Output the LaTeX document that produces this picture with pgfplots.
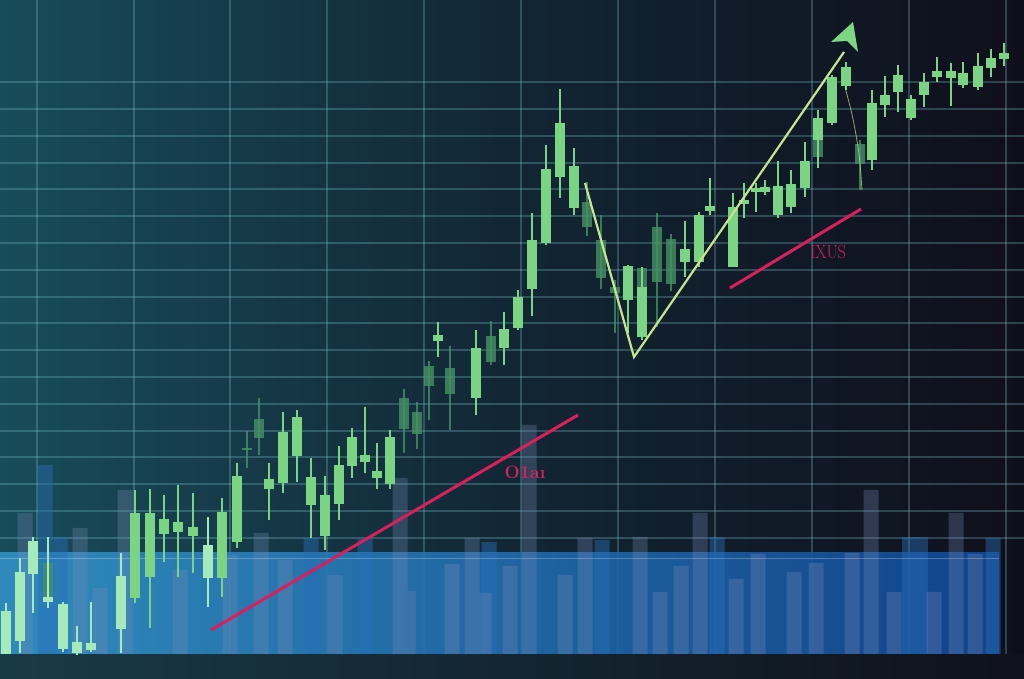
\documentclass[border=0pt]{standalone}
\usepackage{pgfplots}
\usepackage{pgfplotstable}
\pgfplotsset{compat=1.18}
\definecolor{bgL}{RGB}{24,76,90}
\definecolor{bgM}{RGB}{18,38,52}
\definecolor{bgR}{RGB}{15,15,27}
\definecolor{gridc}{RGB}{130,205,215}
\definecolor{bandL}{RGB}{50,145,198}
\definecolor{bandR}{RGB}{18,72,150}
\definecolor{slate}{RGB}{120,140,185}
\definecolor{bluebar}{RGB}{40,110,185}
\definecolor{stripL}{RGB}{24,58,70}
\definecolor{stripR}{RGB}{15,17,28}
\definecolor{cgreen}{RGB}{122,212,132}
\definecolor{cmint}{RGB}{165,235,185}
\definecolor{cdim}{RGB}{70,145,100}
\definecolor{lime}{RGB}{198,228,140}
\definecolor{pinkc}{RGB}{215,32,92}
\definecolor{arrowc}{RGB}{125,215,130}

% candles: x, body low, body high, wick low, wick high
\pgfplotstableread{
x blo bhi lo hi
135 81 166 76 189
150 102 166 51 190
164 145 160 117 184
178 147 157 102 194
193 143 152 106 186
222 101 167 82 181
237 137 203 131 216
269 190 200 159 216
283 196 247 186 267
297 223 262 197 269
311 174 202 141 221
325 143 184 129 203
339 175 214 159 233
352 213 242 201 251
365 217 224 206 272
377 201 208 190 236
390 195 242 190 249
438 338 344 322 357
476 281 331 264 349
504 331 350 314 367
518 351 382 349 389
532 390 439 363 466
546 436 510 434 534
560 502 556 481 590
574 471 513 464 531
628 379 413 346 414
642 342 392 339 412
685 417 430 402 458
699 417 464 412 467
710 468 473 464 501
733 412 472 412 486
744 475 479 461 496
756 487 491 467 496
765 487 492 484 499
778 464 493 461 518
791 472 495 466 509
805 491 518 482 537
818 539 561 511 569
832 556 602 554 604
846 593 612 589 617
872 519 576 509 589
885 574 584 562 603
898 587 604 567 614
911 561 580 559 584
924 584 597 572 606
937 602 608 597 622
951 601 608 573 616
963 594 606 591 617
978 592 613 589 626
991 611 621 602 630
1004 620 626 613 636
}\brightc

\pgfplotstableread{
x blo bhi lo hi
6 25 68 25 76
20 38 107 26 121
33 105 138 66 142
48 77 82 71 142
63 30 75 27 77
77 26 37 24 53
91 29 36 27 77
121 50 103 26 126
208 101 134 72 162
}\mintc

\pgfplotstableread{
x blo bhi lo hi
48 77 116 71 142
247 229 231 211 248
259 241 260 224 281
404 250 281 226 290
417 245 267 230 277
429 293 313 259 318
450 285 311 249 333
491 317 343 314 358
587 452 477 443 497
601 401 439 390 464
615 386 392 346 399
642 392 411 339 412
657 397 452 352 466
671 395 440 388 445
818 522 539 511 569
860 515 535 489 539
}\dimc

\begin{document}
\begin{tikzpicture}
\begin{axis}[
  width=1024pt, height=679pt, scale only axis,
  xmin=0, xmax=1024, ymin=0, ymax=679,
  axis line style={draw=none}, tick style={draw=none},
  xticklabels={}, yticklabels={},
  xtick={37,134,230,327,424,521,618,715,812,909,1006},
  ytick={141,168,195,222,248,275,302,329,356,382,409,436,463,490,516,543,570,597},
  grid=major,
  grid style={line width=1.5pt, draw=gridc, draw opacity=0.27},
  axis background/.style={shade, left color=bgL, right color=bgR, middle color=bgM},
  clip=true,
  candle/.style={draw=none, mark=none, forget plot},
]
% blue band
\addplot[draw=none, left color=bandL, right color=bandR, opacity=0.9, forget plot]
  coordinates {(0,24) (999,24) (999,126) (0,126)} -- cycle;
% blue tall bars
\addplot[ybar, bar shift=0pt, bar width=15, draw=none, fill=bluebar, fill opacity=0.45, forget plot]
  coordinates {(45,214) (60,142) (311,141) (365,140) (489,137) (602,139) (717,142) (993,141)};
\addplot[ybar, bar shift=0pt, bar width=26, draw=none, fill=bluebar, fill opacity=0.45, forget plot]
  coordinates {(915,142)};
% slate volume bars
\addplot[ybar, bar shift=0pt, bar width=15, draw=none, fill=slate, fill opacity=0.3, forget plot]
  coordinates {(25,166) (80,151) (125,189) (261,146) (400,201) (472,141) (529,254) (585,141)
  (640,142) (700,166) (871,189) (956,166)
  (100,91) (180,109) (230,124) (285,119) (335,104) (408,88) (452,115) (484,86) (510,113)
  (565,104) (660,87) (681,113) (736,100) (758,125) (794,107) (816,116) (852,126) (894,87)
  (934,87) (975,125)};
% band top highlight
\addplot[draw=white, draw opacity=0.25, line width=1pt, forget plot] coordinates {(0,120) (999,120)};
% bottom strip
\addplot[draw=none, left color=stripL, right color=stripR, forget plot]
  coordinates {(0,0) (1024,0) (1024,24) (0,24)} -- cycle;
% dim candles
\addplot[candle, error bars/.cd, y dir=plus, y explicit, error mark=none,
  error bar style={line width=1.5pt, draw=cdim, draw opacity=0.8}]
  table[x=x, y=lo, y error expr=\thisrow{hi}-\thisrow{lo}] {\dimc};
\addplot[candle, error bars/.cd, y dir=plus, y explicit, error mark=none,
  error bar style={line width=10.5pt, draw=cdim, draw opacity=0.8}]
  table[x=x, y=blo, y error expr=\thisrow{bhi}-\thisrow{blo}] {\dimc};
% mint candles
\addplot[candle, error bars/.cd, y dir=plus, y explicit, error mark=none,
  error bar style={line width=1.5pt, draw=cmint}]
  table[x=x, y=lo, y error expr=\thisrow{hi}-\thisrow{lo}] {\mintc};
\addplot[candle, error bars/.cd, y dir=plus, y explicit, error mark=none,
  error bar style={line width=10.5pt, draw=cmint}]
  table[x=x, y=blo, y error expr=\thisrow{bhi}-\thisrow{blo}] {\mintc};
% bright candles
\addplot[candle, error bars/.cd, y dir=plus, y explicit, error mark=none,
  error bar style={line width=1.5pt, draw=cgreen}]
  table[x=x, y=lo, y error expr=\thisrow{hi}-\thisrow{lo}] {\brightc};
\addplot[candle, error bars/.cd, y dir=plus, y explicit, error mark=none,
  error bar style={line width=10.5pt, draw=cgreen}]
  table[x=x, y=blo, y error expr=\thisrow{bhi}-\thisrow{blo}] {\brightc};
% thin curved wick
\addplot[smooth, draw=lime, draw opacity=0.7, line width=0.8pt, forget plot]
  coordinates {(845,592) (853,560) (859,525) (862,489)};
% V trend line
\addplot[draw=lime, line width=2.2pt, forget plot]
  coordinates {(585,496) (634,322) (844,627)};
% arrow head
\addplot[draw=none, fill=arrowc, forget plot]
  coordinates {(831,637) (853,657) (858,627) (847,638)} -- cycle;
% pink lines
\addplot[draw=pinkc, line width=3pt, forget plot] coordinates {(211,49) (578,264)};
\addplot[draw=pinkc, line width=3pt, forget plot] coordinates {(730,391) (861,470)};
\node[text=pinkc, font=\fontsize{18}{18}\selectfont\bfseries] at (axis cs:525,207) {O1a\i};
\node[text=pinkc, font=\fontsize{19}{19}\selectfont, xscale=0.85] at (axis cs:828,427) {IXUS};
\end{axis}
\pgfresetboundingbox
\path[use as bounding box] (current axis.south west) rectangle (current axis.north east);
\end{tikzpicture}
\end{document}
